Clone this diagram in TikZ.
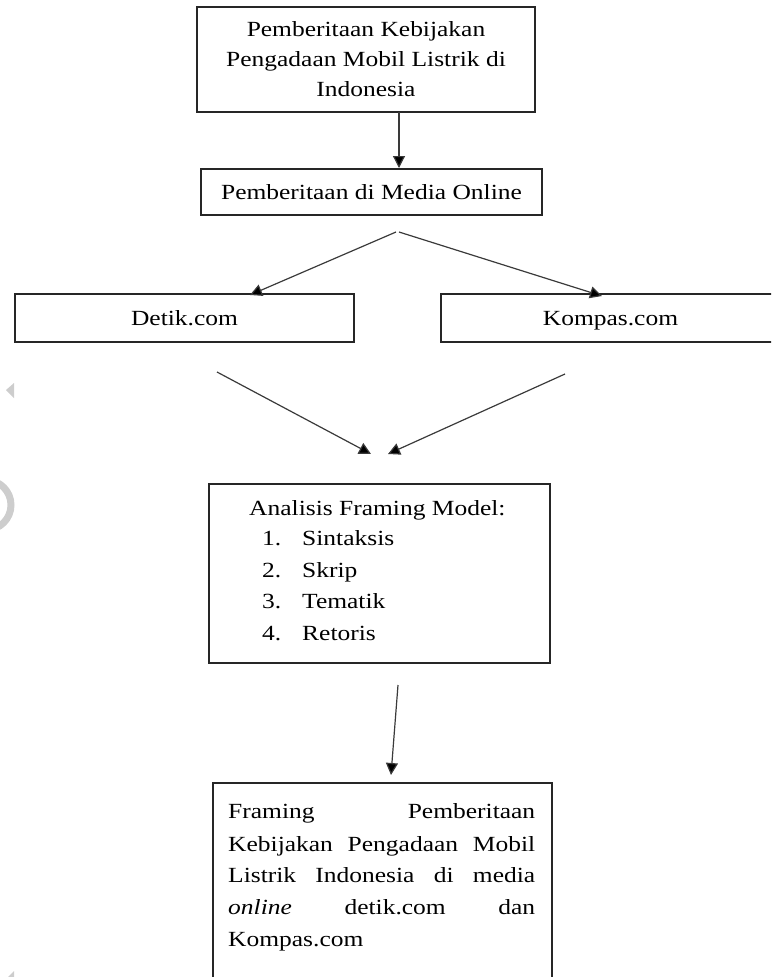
\documentclass[tikz,border=0pt]{standalone}
\usepackage{fontspec}
\setmainfont{Liberation Serif}[FakeStretch=1.18]
\usetikzlibrary{arrows.meta}
\definecolor{boxline}{HTML}{262626}
\definecolor{arrline}{HTML}{3A3A3A}
\definecolor{txt}{HTML}{000000}
\definecolor{wm}{HTML}{CDCDCD}
\tikzset{
  box/.style={draw=boxline, line width=1.8pt, rectangle, inner sep=0pt, text=txt,
    font=\fontsize{21.6}{30}\selectfont, align=center},
  onebox/.style={box, text height=15pt, text depth=0pt},
  lbl/.style={inner sep=0pt, anchor=base west, text=txt, font=\fontsize{21.6}{30}\selectfont},
  arr/.style={draw=arrline, line width=1.2pt, -{Triangle[length=12pt,width=12pt,fill=black]}},
}
\begin{document}
\begin{tikzpicture}[x=1pt,y=-1pt]
\useasboundingbox (0,0) rectangle (771,977);
\clip (0,0) rectangle (771,977);
% watermark remnants
\fill[wm] (6,390) -- (14,383) -- (14,398) -- cycle;
\draw[wm, line width=7pt] (-14,505) circle[radius=25];
\fill[wm] (8,977) -- (14,971) -- (14,977) -- cycle;
% boxes
\node[box, minimum width=338pt, minimum height=105pt] (b1) at (366,59.5)
  {Pemberitaan Kebijakan\\Pengadaan Mobil Listrik di\\Indonesia};
\node[onebox, minimum width=341pt, minimum height=46pt] (b2) at (371.5,192)
  {Pemberitaan di Media Online};
\node[onebox, minimum width=339pt, minimum height=48pt] (detik) at (184.5,318) {Detik.com};
\node[onebox, minimum width=339pt, minimum height=48pt] (kompas) at (610.5,318) {Kompas.com};
\node[box, minimum width=341pt, minimum height=179pt] (anl) at (379.5,573.5) {};
\node[box, minimum width=339pt, minimum height=220pt] (fin) at (382.5,893) {};
% analisis text
\node[lbl] (a0) at (249,515) {Analisis Framing Model:};
\node[lbl] (n1) at (262,545) {1.};
\node[lbl] (t1) at (302,545) {Sintaksis};
\node[lbl] (n2) at (262,577) {2.};
\node[lbl] (t2) at (302,577) {Skrip};
\node[lbl] (n3) at (262,608) {3.};
\node[lbl] (t3) at (302,608) {Tematik};
\node[lbl] (n4) at (262,640) {4.};
\node[lbl] (t4) at (302,640) {Retoris};
% final text
\node[lbl] (f1) at (228,818) {\hbox to 307pt{Framing\hfill Pemberitaan}};
\node[lbl] (f2) at (228,851) {\hbox to 307pt{Kebijakan\hfill Pengadaan\hfill Mobil}};
\node[lbl] (f3) at (228,882) {\hbox to 307pt{Listrik\hfill Indonesia\hfill di\hfill media}};
\node[lbl] (f4) at (228,914) {\hbox to 307pt{\textit{online}\hfill detik.com\hfill dan}};
\node[lbl] (f5) at (228,946) {Kompas.com};
% connector coordinates
\coordinate (s1) at (399,112);
\coordinate (e1) at (399,168);
\coordinate (s2) at (396,232);
\coordinate (s3) at (399,232);
\coordinate (e2) at (250,295);
\coordinate (e3) at (602,296);
\coordinate (s4) at (217,372);
\coordinate (s5) at (565,374);
\coordinate (e4) at (371,454);
\coordinate (e5) at (388,454);
\coordinate (s6) at (398,685);
\coordinate (e6) at (391,775);
% connectors
\draw[arr] (s1) -- (e1);
\draw[arr] (s2) -- (e2);
\draw[arr] (s3) -- (e3);
\draw[arr] (s4) -- (e4);
\draw[arr] (s5) -- (e5);
\draw[arr] (s6) -- (e6);
\end{tikzpicture}
\end{document}
